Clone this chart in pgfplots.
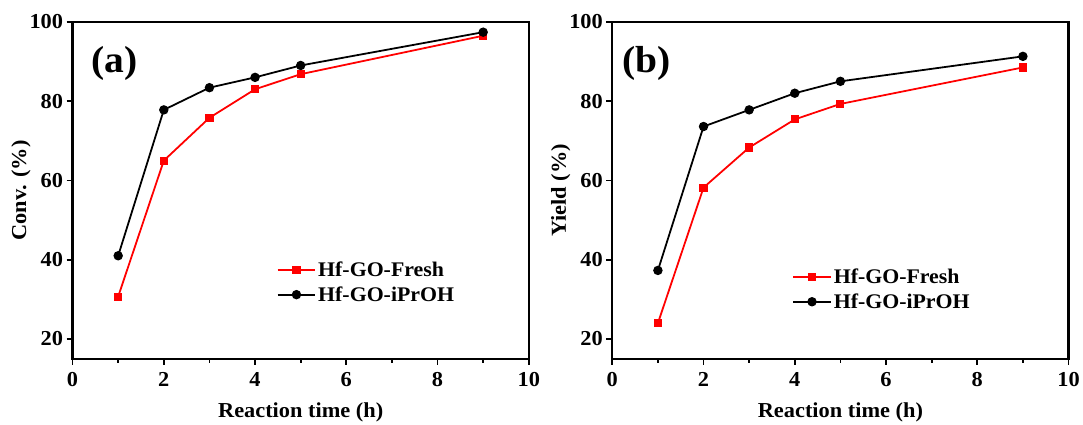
\documentclass[border=0pt]{standalone}
\usepackage{fontspec}
\setmainfont{Liberation Serif}[FakeStretch=1.05]
\usepackage{pgfplots}
\pgfplotsset{compat=1.18}

\definecolor{fresh}{RGB}{255,0,0}

\pgfplotsset{
  kinetics/.style={
    scale only axis,
    width=459bp, height=339bp,
    xmin=0, xmax=10, ymin=15, ymax=100,
    xtick={0,2,...,10}, ytick={20,40,...,100},
    minor xtick={1,3,...,9},
    axis line style={line width=2.4pt},
    tick style={line width=1.8pt, black},
    tick align=outside,
    xtick pos=bottom, ytick pos=left,
    major tick length=6bp, minor tick length=4bp,
    ticklabel style={font=\fontsize{21.5}{23}\selectfont\bfseries},
    xticklabel style={yshift=-4bp},
    /pgf/number format/assume math mode=true,
    label style={font=\fontsize{21.5}{23}\selectfont\bfseries},
    xlabel={Reaction time (h)},
    xlabel style={yshift=-9bp},
    ylabel style={yshift=-8bp},
    legend style={draw=none, fill=none, font=\fontsize{21}{23}\selectfont\bfseries,
      row sep=5bp, inner sep=0pt},
    legend cell align=left,
    legend image code/.code={
      \draw[##1, mark repeat=2, mark phase=2] plot coordinates {(0bp,0bp) (19bp,0bp) (38bp,0bp)};
    },
  },
  freshline/.style={color=fresh, line width=1.8pt, mark=square*, mark size=3.2bp,
    mark options={solid, fill=fresh, draw=fresh}},
  iproline/.style={color=black, line width=1.8pt, mark=*, mark size=3.8bp,
    mark options={solid, fill=black}},
}

\begin{document}
\begin{tikzpicture}
\path (0,0) rectangle (1083bp,421bp);

% (a) conversion
\begin{axis}[kinetics, at={(73bp,60bp)}, anchor=south west,
    ylabel={Conv. (\%)},
    legend style={at={(0.447,0.16)}, anchor=south west}]
\addplot[freshline] coordinates {(1,30.7) (2,65.0) (3,75.8) (4,83.0) (5,86.8) (9,96.5)};
\addlegendentry{Hf-GO-Fresh}
\addplot[iproline] coordinates {(1,41.0) (2,77.8) (3,83.4) (4,86.0) (5,89.0) (9,97.4)};
\addlegendentry{Hf-GO-iPrOH}
\node[anchor=center, font=\fontsize{38}{40}\selectfont\bfseries] at (axis cs:0.92,89.6) {(a)};
\end{axis}

% (b) yield
\begin{axis}[kinetics, at={(616bp,60bp)}, anchor=south west,
    ylabel={Yield (\%)},
    legend style={at={(0.394,0.139)}, anchor=south west}]
\addplot[freshline] coordinates {(1,24.0) (2,58.2) (3,68.3) (4,75.4) (5,79.3) (9,88.5)};
\addlegendentry{Hf-GO-Fresh}
\addplot[iproline] coordinates {(1,37.3) (2,73.6) (3,77.8) (4,82.0) (5,85.0) (9,91.3)};
\addlegendentry{Hf-GO-iPrOH}
\node[anchor=center, font=\fontsize{38}{40}\selectfont\bfseries] at (axis cs:0.76,89.6) {(b)};
\end{axis}
\end{tikzpicture}
\end{document}
